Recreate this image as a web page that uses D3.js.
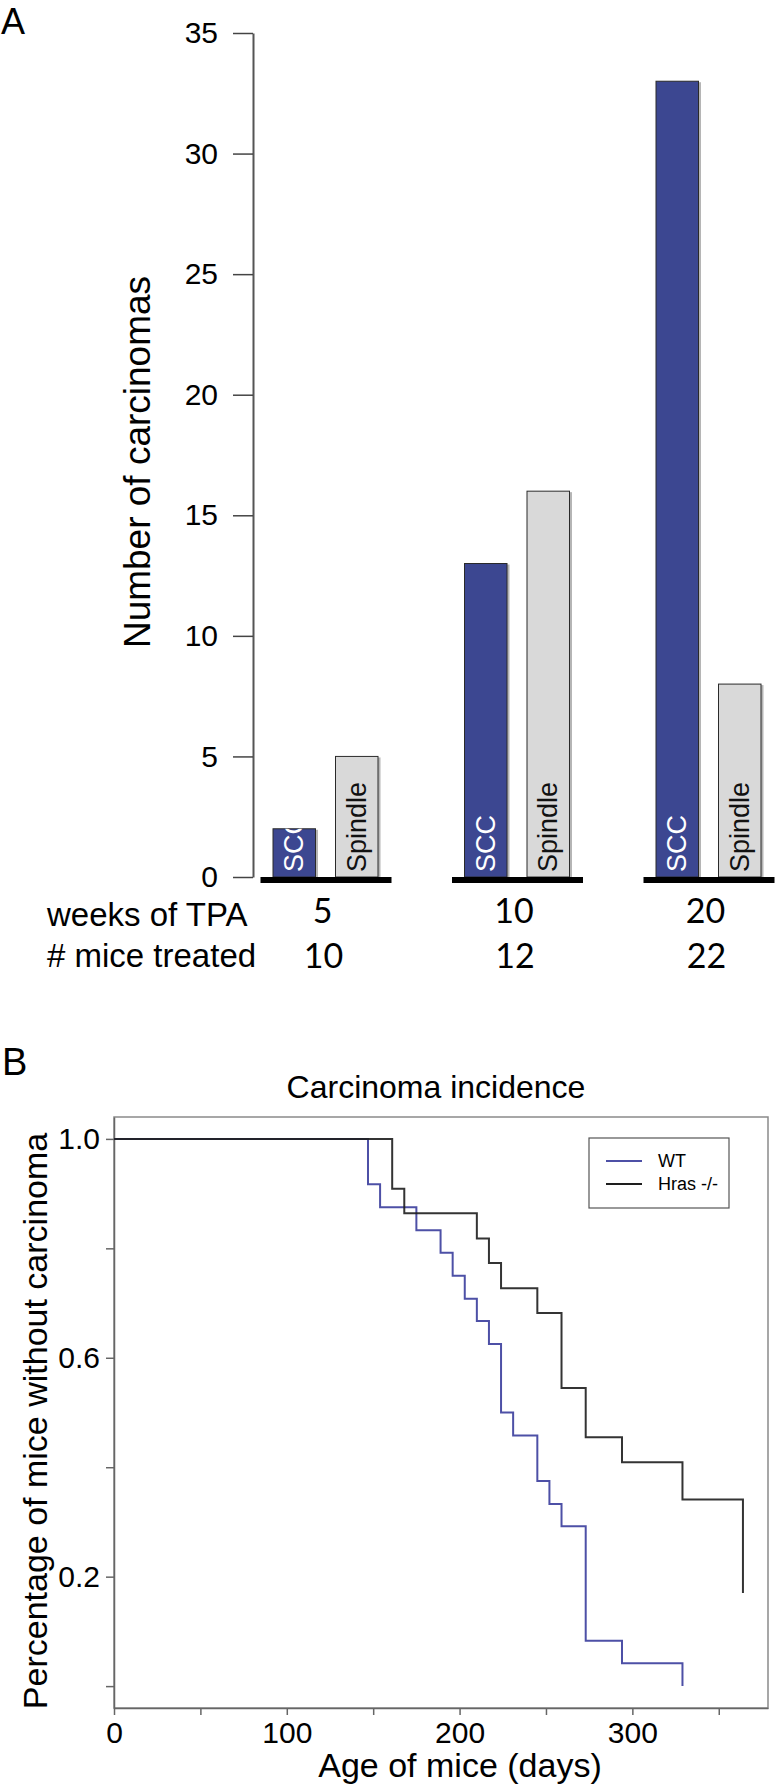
<!DOCTYPE html>
<html>
<head>
<meta charset="utf-8">
<script src="https://cdn.jsdelivr.net/npm/d3@7"></script>
<style>
  html, body { margin: 0; padding: 0; background: #fff; }
  svg { display: block; font-family: "Liberation Sans", Arial, sans-serif; }
</style>
</head>
<body>
<svg id="chart" width="776" height="1788"></svg>
<script>
// ---------- Panel A data ----------
const groups = ["5", "10", "20"];            // weeks of TPA
const types = ["SCC", "Spindle"];
const sccCounts = [2, 13, 33];
const spindleCounts = [5, 16, 8];
const miceTreated = ["10", "12", "22"];
const yTicksA = [0, 5, 10, 15, 20, 25, 30, 35];

// ---------- Panel B data (Kaplan-Meier) ----------
const wtDays = [0, 147, 154, 175, 189, 196, 203, 210, 217, 224, 231, 245, 252, 259, 273, 294, 329];
const wtSurv = [1.0, 0.917, 0.875, 0.833, 0.792, 0.75, 0.708, 0.667, 0.625, 0.5, 0.458, 0.375, 0.333, 0.292, 0.083, 0.042, 0.0];
const hrasDays = [0, 161, 168, 210, 217, 224, 245, 259, 273, 294, 329, 364];
const hrasSurv = [1.0, 0.909, 0.864, 0.818, 0.773, 0.727, 0.682, 0.545, 0.455, 0.409, 0.341, 0.17];
const seriesNames = ["WT", "Hras -/-"];
const xTicksB = [0, 50, 100, 150, 200, 250, 300, 350];
const xLabelledB = [0, 100, 200, 300];
const yTicksB = [0, 0.2, 0.4, 0.6, 0.8, 1.0];
const yLabelledB = [0.2, 0.6, 1.0];

const svg = d3.select("#chart");
const SCC_COLOR = "#3c4791";
const SPINDLE_COLOR = "#d9d9d9";
const WT_COLOR = "#4d50a6";
const HRAS_COLOR = "#1e1e1e";

// ================= PANEL A =================
svg.append("text").attr("x", 1).attr("y", 34).attr("font-size", 36).text("A");

const yA = d3.scaleLinear().domain([0, 35]).range([877, 33]);
const xGroup = d3.scalePoint().domain(groups).range([325.5, 708.5]);
const xInner = d3.scaleBand().domain(types).range([-52.5, 52.5]).paddingInner(0.32);

const axisA = svg.append("g").attr("transform", "translate(253,0)")
  .call(d3.axisLeft(yA).tickValues(yTicksA).tickSize(20).tickSizeOuter(0).tickPadding(15));
axisA.select(".domain").attr("stroke", "#555").attr("stroke-width", 2);
axisA.selectAll(".tick line").attr("stroke", "#444").attr("stroke-width", 1.5);
axisA.selectAll(".tick text").attr("font-size", 30).attr("font-family", "Liberation Sans, Arial, sans-serif").attr("fill", "#000");

svg.append("text")
  .attr("transform", "translate(150,462) rotate(-90)")
  .attr("text-anchor", "middle").attr("font-size", 37)
  .text("Number of carcinomas");

const barData = [];
groups.forEach((g, i) => {
  barData.push({ g, type: "SCC", v: sccCounts[i], i });
  barData.push({ g, type: "Spindle", v: spindleCounts[i], i });
});

const defs = svg.append("defs");
barData.forEach((d, k) => {
  const x = xGroup(d.g) + xInner(d.type);
  defs.append("clipPath").attr("id", "bc" + k)
    .append("rect").attr("x", x).attr("y", yA(d.v))
    .attr("width", xInner.bandwidth()).attr("height", yA(0) - yA(d.v));
});

const bars = svg.append("g");
barData.forEach((d, k) => {
  const x = xGroup(d.g) + xInner(d.type);
  const w = xInner.bandwidth();
  // soft shadow on the right
  bars.append("rect").attr("x", x + 2.5).attr("y", yA(d.v) + 1)
    .attr("width", w).attr("height", yA(0) - yA(d.v) - 1).attr("fill", "#b5b5b5");
  bars.append("rect").attr("x", x).attr("y", yA(d.v))
    .attr("width", w).attr("height", yA(0) - yA(d.v))
    .attr("fill", d.type === "SCC" ? SCC_COLOR : SPINDLE_COLOR)
    .attr("stroke", "#2a2a2a").attr("stroke-width", 1);
  const cx = x + w / 2;
  bars.append("g").attr("clip-path", "url(#bc" + k + ")")
    .append("text")
    .attr("transform", `translate(${cx + 9},872) rotate(-90)`)
    .attr("font-size", 27)
    .attr("fill", d.type === "SCC" ? "#fff" : "#111")
    .text(d.type);
});

// thick baselines per group
groups.forEach(g => {
  svg.append("line")
    .attr("x1", xGroup(g) - 65).attr("x2", xGroup(g) + 66)
    .attr("y1", yA(0) + 3).attr("y2", yA(0) + 3)
    .attr("stroke", "#000").attr("stroke-width", 6);
});

// table below
svg.append("text").attr("x", 47).attr("y", 926).attr("font-size", 33).text("weeks of TPA");
svg.append("text").attr("x", 47).attr("y", 967).attr("font-size", 33).text("# mice treated");
groups.forEach((g, i) => {
  svg.append("text").attr("x", xGroup(g) - 3).attr("y", 923)
    .attr("text-anchor", "middle").attr("font-size", 34).attr("font-family", "Lato, sans-serif").text(g);
  svg.append("text").attr("x", xGroup(g) - 2).attr("y", 968)
    .attr("text-anchor", "middle").attr("font-size", 34).attr("font-family", "Lato, sans-serif").text(miceTreated[i]);
});

// ================= PANEL B =================
svg.append("text").attr("x", 2).attr("y", 1075).attr("font-size", 38).text("B");
svg.append("text").attr("x", 436).attr("y", 1098).attr("text-anchor", "middle")
  .attr("font-size", 32).text("Carcinoma incidence");

const xB = d3.scaleLinear().domain([0, 378.5]).range([114, 768]);
const yB = d3.scaleLinear().domain([-0.04, 1.04]).range([1708, 1117]);

// frame
svg.append("rect").attr("x", 114).attr("y", 1117).attr("width", 768 - 114).attr("height", 1708 - 1117)
  .attr("fill", "none").attr("stroke", "#8a8a8a").attr("stroke-width", 1.5);

const axisBy = svg.append("g").attr("transform", "translate(114,0)")
  .call(d3.axisLeft(yB).tickValues(yTicksB).tickSize(8).tickSizeOuter(0).tickPadding(6)
    .tickFormat(d => yLabelledB.some(v => Math.abs(v - d) < 1e-9) ? d.toFixed(1) : ""));
axisBy.select(".domain").attr("stroke", "#666").attr("stroke-width", 1.5);
axisBy.selectAll(".tick line").attr("stroke", "#666").attr("stroke-width", 1.5);
axisBy.selectAll(".tick text").attr("font-size", 30).attr("font-family", "Liberation Sans, Arial, sans-serif").attr("fill", "#000");

const axisBx = svg.append("g").attr("transform", "translate(0,1708)")
  .call(d3.axisBottom(xB).tickValues(xTicksB).tickSize(7).tickSizeOuter(0).tickPadding(7)
    .tickFormat(d => xLabelledB.includes(d) ? d : ""));
axisBx.select(".domain").attr("stroke", "#666").attr("stroke-width", 1.5);
axisBx.selectAll(".tick line").attr("stroke", "#666").attr("stroke-width", 1.5);
axisBx.selectAll(".tick text").attr("font-size", 30).attr("font-family", "Liberation Sans, Arial, sans-serif").attr("fill", "#000");

svg.append("text").attr("x", 460).attr("y", 1777).attr("text-anchor", "middle")
  .attr("font-size", 34).text("Age of mice (days)");
svg.append("text")
  .attr("transform", "translate(47,1421) rotate(-90)")
  .attr("text-anchor", "middle").attr("font-size", 34)
  .text("Percentage of mice without carcinoma");

const line = d3.line().x(d => xB(d[0])).y(d => yB(d[1])).curve(d3.curveStepAfter);
const wtPts = wtDays.map((d, i) => [d, wtSurv[i]]);
const hrasPts = hrasDays.map((d, i) => [d, hrasSurv[i]]);

svg.append("path").attr("d", line(wtPts)).attr("fill", "none")
  .attr("stroke", WT_COLOR).attr("stroke-width", 2);
svg.append("path").attr("d", line(hrasPts)).attr("fill", "none")
  .attr("stroke", HRAS_COLOR).attr("stroke-width", 2).attr("stroke-opacity", 0.9);

// legend
const lg = svg.append("g");
lg.append("rect").attr("x", 589).attr("y", 1138).attr("width", 140).attr("height", 70)
  .attr("fill", "#fff").attr("stroke", "#555").attr("stroke-width", 1.2);
const legColors = [WT_COLOR, HRAS_COLOR];
seriesNames.forEach((n, i) => {
  const yy = 1161 + i * 23;
  lg.append("line").attr("x1", 606).attr("x2", 642).attr("y1", yy).attr("y2", yy)
    .attr("stroke", legColors[i]).attr("stroke-width", 2);
  lg.append("text").attr("x", 658).attr("y", yy + 6).attr("font-size", 18).text(n);
});
</script>
</body>
</html>
